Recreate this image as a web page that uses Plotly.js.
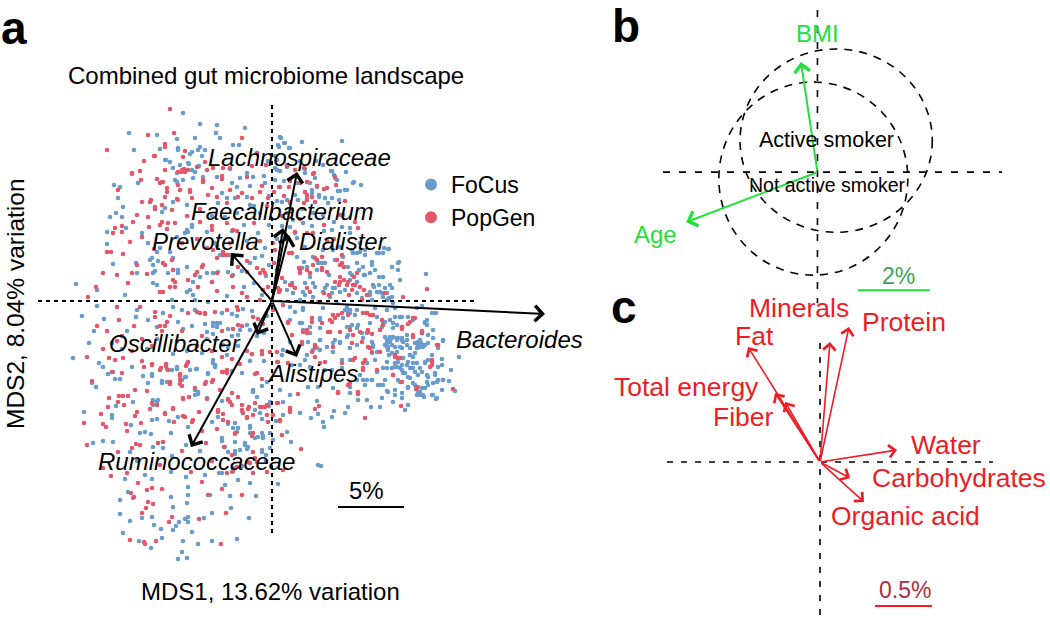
<!DOCTYPE html>
<html><head><meta charset="utf-8">
<script src="https://cdn.plot.ly/plotly-3.0.1.min.js"></script>
<style>html,body{margin:0;padding:0;background:#fff}</style></head>
<body><div id="chart" style="width:1050px;height:619px"></div>
<script>
// Panel a, ordinates; 66 units = 5% variation.
const focusPoints = [
[-89,188],[-72,177],[-55,176],[-27,173],[-143,168],[-115,166],[-95,162],[-77,163],[-56,168],[-138,151],[-112,152],[-94,153],[-80,149],[-72,154],[-52,163],[-39,156],[-33,156],[-106,141],[-83,137],[-99,133],[-95,128],[-77,129],[-73,135],[-97,121],[-134,118],[-140,127],[-158,116],[-152,114],[-154,103],[-149,94],[-162,84],[-156,88],[-150,84],[-146,73],[-165,69],[-130,68],[-124,58],[-165,57],[-112,53],[-102,49],[-159,37],[-136,38],[-122,41],[-114,40],[-119,28],[-135,28],[-196,17],[-175,11],[-175,-5],[-147,6],[-135,-9],[-136,-16],[-124,-19],[-109,-12],[-90,-9],[-100,1],[-85,9],[-77,1],[-64,-1],[-59,-22],[-55,-22],[-94,31],[-80,74],[-85,71],[-79,19],[-72,24],[-65,28],[-60,19],
[-199,-57],[-183,-42],[-173,-62],[-169,-66],[-159,-71],[-164,-73],[-157,-78],[-152,-78],[-180,-82],[-176,-86],[-129,-75],[-120,-73],[-124,-82],[-110,-80],[-105,-81],[-105,-68],[-95,-66],[-86,-76],[-76,-68],[-59,-62],[-57,-66],[-64,-72],[-45,-54],[-30,-72],[-19,-91],[-74,-91],[-77,-94],[-65,-97],[-119,-99],[-114,-99],[-139,-101],[-156,-105],[-188,-111],[-160,-114],[-160,-117],[-120,-119],[-115,-118],[-103,-120],[-94,-116],[-141,-124],[-132,-132],[-127,-131],[-121,-133],[-84,-126],[-101,-132],[-60,-121],[-54,-116],[-39,-127],[-35,-131],[-22,-127],[-14,-136],[-9,-135],[-169,-140],[-179,-142],[-159,-141],[-119,-146],[-109,-147],[-86,-144],[-50,-140],[-37,-150],[-27,-144],[-24,-146],[-10,-151],[-142,-151],[-147,-178],[-127,-174],[-120,-178],[-101,-171],[-86,-176],[-67,-174],[-50,-172],[-40,-171],[-34,-179],[-22,-182],[-84,-186],[-84,-194],[-101,-196],[-144,-191],[-139,-197],[-152,-199],[-62,-194],[-47,-184],[-42,-195],[-16,-195],[-85,-202],[-99,-206],[-152,-213],[-130,-217],[-120,-216],[-142,-220],[-118,-224],[-111,-228],[-99,-229],[-96,-225],[-93,-221],[-87,-218],[-84,-216],[-84,-221],[-68,-217],[-60,-212],[-41,-207],[-23,-217],[-149,-232],[-80,-231],[-133,-240],[-110,-237],[-89,-240],[-74,-243],[-60,-240],[-35,-238],[-121,-247],[-90,-251],[-94,-258],[-85,-257],
[187,-56],[171,-40],[170,-58],[170,-64],[179,-69],[177,-80],[183,-90],[171,-79],[164,-98],[161,-94],[152,-96],[148,-94],[146,-91],[150,-87],[136,-104],[133,-109],[121,-101],[108,-106],[99,-106],[110,-97],[95,-99],[86,-99],[76,-106],[73,-112],[60,-116],[62,-110],[46,-113],[39,-117],[51,-121],[52,-126],[45,-100],[28,-112],[19,-141],[15,-131],[49,-165],[6,-183],[1,-139],[163,-12],[150,-5],[155,-19],[155,-24],[161,-29],[150,-32],[149,-42],[145,-47],[153,-44],[166,-47],[156,-34],[160,-54],[153,-61],[145,-62],[138,-54],[135,-44],[130,-39],[125,-37],[118,-41],[115,-46],[117,-54],[123,-62],[130,-69],[138,-77],[146,-74],[155,-74],[163,-74],[165,-81],[155,-81],[141,-82],[136,-87],[130,-92],[123,-89],[115,-90],[108,-84],[113,-79],[105,-71],[111,-67],[115,-61],[103,-59],[95,-62],[88,-74],[95,-79],[100,-79],[85,-79],[78,-86],[61,-87],[46,-86],[36,-86],[18,-94],[8,-89],[78,-59],[70,-67],[60,-69],[48,-49],[41,-49],[36,-41],[48,-39],[61,-42],[68,-41],[75,-36],[86,-24],[78,-26],[95,-32],[101,-44],[105,-51],[110,-26],[121,-27],[130,-16],[141,-19],[123,-16],[115,-9],[105,-16],[95,-12],[78,-12],[73,-9],[48,-17],[31,-9],[23,-11],[18,-19],[30,-22],[38,-26],[18,-41],[11,-49],[5,-61],[10,-54],[20,-64],[28,-64],[38,-66],[53,-69],
[115,-39],[118,-37],[121,-36],[126,-37],[131,-41],[135,-39],[113,-44],[116,-49],[120,-52],[126,-57],[131,-57],[136,-61],[141,-67],[125,-66],[130,-64],[133,-72],[128,-81],[146,-44],[151,-46],[148,-39],
[9,163],[12,158],[30,159],[70,160],[18,153],[6,156],[60,130],[74,129],[81,118],[89,116],[63,123],[73,111],[66,110],[33,128],[15,134],[38,118],[40,108],[18,98],[26,101],[15,88],[21,81],[31,78],[41,88],[51,86],[71,86],[78,68],[88,58],[93,51],[111,48],[116,52],[105,48],[126,38],[120,34],[126,31],[154,27],[128,21],[118,16],[111,24],[108,9],[101,16],[93,26],[81,48],[71,44],[63,41],[53,38],[46,38],[35,34],[25,44],[18,74],[33,54],[41,44],[51,51],[61,51],[76,34],[85,38],[91,34],[98,28],[78,28],[73,11],[61,13],[51,9],[41,18],[31,9],[21,8],[41,4],[58,4],[85,8],[98,6],[120,4],[115,1],[111,4],[121,-2],[123,-7],[103,-7],[85,-9],[76,-11],[75,-6],[65,-2],[51,-7],[31,-7],[18,-6],[145,-7],[128,-16],[136,-16],[153,-22],[164,-12],[48,-19],[28,-22],[98,-22],[111,-21],[121,-22],
[-60,85],[-50,108],[-35,88],[-18,95],[-8,125],[-22,115],[-42,132],[-15,148],[-4,140],[-55,55],[-40,70],[-25,60],[-10,45],[-30,30],[-18,18],[-6,25],[-45,5],[-20,-10],[-35,-15],[-5,-15],[-15,-35],[-40,-35],[-65,-38],[-80,-25],[-95,-40],[-115,-38],[-125,-48],[-145,-30],[-160,-42],[-178,-30],[-190,-15],[-8,-60],[-22,-60],[-40,-70],[-10,-85],[-3,-105],[-70,-52],[-85,-50],
[62,79],[60,71],[70,74],[78,73],[23,68],[25,63],[60,54],[68,54],[80,51],[88,49],[107,48],[117,52],[112,53],[85,48],[93,46],[100,39],[32,39],[30,33],[47,38],[50,38],[45,31],[57,26],[87,31],[92,26],[100,36],[103,31],[80,26],[78,21],[85,19],[107,24],[113,13],[120,13],[127,39],[107,16],[102,14],[98,9],[105,9],[110,8],[117,3],[115,8],[100,1],[90,3],[68,9],[63,13],[60,8],[53,13],[55,16],[38,24],[33,18],[20,18],[13,19],[15,11],[33,6],[43,14],[28,1],
[78,-9],[75,-9],[83,-14],[71,-17],[80,-24],[76,-34],[85,-27],[90,-32],[48,-39],[45,-47],[35,-54],[33,-59],[48,-27],[38,-32],[31,-29],[113,-21],[118,-19],[125,-24],[128,-16],[118,-36],[115,-42],[116,-46],[120,-37],[125,-39],[130,-37],[135,-34],[145,-47],[148,-46],[151,-44],[143,-52],[125,-51],[126,-61],[131,-57],[138,-54],[135,-64],[128,-67],[131,-72],[136,-76],[143,-71],[148,-67],[156,-76],[163,-72],[166,-79],[171,-79],[148,-91],[151,-94],[145,-94],[146,-86],[115,-67],[111,-84],[106,-84],[116,-91],[123,-94],[91,-79],[100,-79],[78,-92],[93,-84],[100,-41],[98,-47],[101,-46],[100,-52],[156,-42],[161,-37],[171,-39],[153,-21],[160,-12],[75,-26],[63,-39],[55,-46],[61,-51],[70,-59],[130,-97],[160,-94],[165,-97],
[-94,151],[-82,147],[-74,151],[-67,151],[-107,141],[-102,139],[-84,138],[-70,145],[-92,136],[-80,131],[-79,123],[-69,124],[-55,124],[-32,123],[-40,118],[-35,114],[-25,128],[-19,124],[-95,119],[-89,121],[-99,99],[-94,101],[-85,96],[-107,93],[-110,89],[-80,76],[-84,69],[-87,68],[-90,58],[-65,69],[-57,58],[-95,64],[-115,49],[-99,43],[-120,43],[-119,36],[-85,34],[-94,28],[-104,28],[-117,30],[-119,18],[-115,16],[-82,11],[-79,6],[-59,28],[-54,29],[-44,29],[-39,26],[-22,38],[-17,43],[-7,53],[-52,46],[-47,46],[-42,46],[-45,103],[-37,103],[-25,104],[-22,96],[-7,118],[-54,98],
[-99,-6],[-77,-9],[-115,-26],[-94,-21],[-89,-28],[-59,-25],[-52,-22],[-67,-23],[-55,-26],[-44,-28],[-65,-31],[-59,-33],[-32,-29],[-34,-34],[-25,-24],[-22,-29],[-40,-13],[-29,-8],[-120,-46],[-99,-53],[-120,-75],[-110,-82],[-100,-69],[-95,-68],[-82,-69],[-75,-68],[-59,-59],[-57,-64],[-64,-73],[-87,-76],[-90,-79],[-77,-89],[-74,-93],[-115,-101],[-119,-104],[-49,-44],[-44,-46],[-19,-89],[-15,-96],[-5,-81],
[3,145],[8,130],[-3,105],[12,120],[25,118],[5,100],[30,92],[10,75],[5,62],[40,75],[52,70],[28,140],[44,140],[56,98],[47,104],[-12,88],[-3,76],[-14,68],[-28,76],[-47,84],[-3,36],[-28,14],[-10,6],[-34,-45],[-8,-32],[-50,-12],[-150,-48],[-168,-18],[-140,-66],[-30,-110],[-50,-100],[-10,-118],[-30,-165],[-6,-160],[-72,-150],[-100,-155],[-135,-160],
[8,164],[13,158],[7,154],[17,153],[5,141],[15,136],[3,133],[5,131],[33,132],[51,136],[59,130],[62,126],[82,119],[65,121],[68,110],[75,111],[43,123],[45,114],[40,111],[47,106],[53,103],[60,103],[67,101],[23,106],[35,103],[10,99],[15,101],[7,114],[3,121],
[-2,-101],[11,-101],[-12,-112],[-17,-109],[4,-120],[11,-114],[-44,-123],[-37,-122],[-34,-127],[-37,-133],[-22,-125],[-22,-132],[-17,-137],[-10,-132],[-9,-137],[-2,-132],[-50,-137],[-37,-141],[-27,-142],[-25,-148],[-47,-146],[-44,-151],[-37,-153],[-32,-149],[-2,-147],[-10,-149],[-6,-154],[-53,-172],[-39,-167],[46,-164],
[113,-36],[120,-44],[123,-46],[128,-46],[138,-47],[143,-42],[146,-41],[141,-56],[130,-47],[120,-67],[123,-66],[138,-67],[141,-62],[153,-62],[156,-59],[166,-66],[150,-71],[126,-79],[136,-86],[143,-84],[156,-84],[161,-82],[153,-87],[170,-89],[91,-37],[85,-44],[78,-47],[68,-42]
];
const popgenPoints = [
[-102,192],[-124,166],[-98,168],[-165,151],[-118,145],[-128,140],[-107,157],[-87,150],[-132,130],[-140,128],[-131,121],[-115,122],[-107,131],[-88,132],[-91,129],[-110,119],[-105,113],[-94,116],[-82,111],[-65,131],[-69,121],[-50,122],[-42,133],[-30,163],[-49,133],[-25,124],[-154,111],[-130,99],[-121,101],[-135,86],[-124,84],[-117,94],[-110,96],[-95,102],[-100,91],[-139,79],[-123,74],[-150,75],[-157,73],[-159,68],[-150,69],[-130,64],[-142,59],[-165,49],[-161,49],[-149,47],[-169,28],[-155,26],[-140,28],[-135,36],[-125,27],[-109,38],[-99,21],[-97,14],[-109,9],[-75,29],[-69,36],[-55,28],[-39,14],[-176,14],[-184,4],[-155,-6],[-144,18],[-132,-6],[-117,-16],[-153,-19],[-138,-25],[-105,-21],[-84,-12],[-72,-12],[-67,-12],[-45,-9],[-35,-6],[-12,1],[-25,4],[-9,31],[-15,33],[-59,51],[-49,49],[-65,53],[-45,46],
[-185,-56],[-169,-48],[-163,-57],[-157,-59],[-149,-57],[-160,-71],[-150,-72],[-128,-66],[-120,-63],[-111,-67],[-106,-63],[-86,-65],[-84,-61],[-92,-73],[-92,-79],[-92,-83],[-102,-81],[-66,-81],[-59,-79],[-77,-87],[-49,-71],[-45,-72],[-15,-72],[-10,-78],[-52,-89],[-40,-92],[-44,-99],[-163,-97],[-153,-95],[-149,-95],[-144,-95],[-137,-89],[-125,-90],[-164,-106],[-154,-101],[-148,-104],[-122,-108],[-120,-102],[-115,-104],[-135,-111],[-137,-115],[-171,-113],[-188,-122],[-169,-123],[-166,-126],[-146,-123],[-131,-122],[-107,-112],[-99,-107],[-98,-121],[-89,-115],[-80,-121],[-73,-111],[-89,-97],[-83,-96],[-55,-128],[-44,-121],[-30,-104],[-25,-116],[-10,-106],[-29,-112],[-185,-144],[-136,-143],[-132,-144],[-114,-142],[-109,-141],[-154,-151],[-140,-147],[-66,-142],[-48,-146],[-40,-154],[-169,-167],[-161,-175],[-145,-172],[-134,-182],[-112,-164],[-81,-171],[-70,-181],[-125,-189],[-120,-187],[-110,-188],[-141,-192],[-138,-196],[-64,-194],[-50,-188],[-30,-194],[-124,-201],[-119,-203],[-126,-207],[-130,-212],[-100,-216],[-103,-221],[-73,-218],[-46,-212],[-142,-239],[-128,-241],[-127,-243],[-116,-240],[-51,-243],[-35,-166],[-22,-162],[-5,-171],[-15,-161],
[181,-88],[144,-88],[129,-105],[93,-117],[47,-105],[43,-108],[18,-109],[10,-134],[29,-148],[11,-169],[5,-102],[26,-93],[66,-92],[86,-91],[53,-61],[48,-62],[70,-62],[81,-59],[91,-62],[91,-67],[105,-69],[121,-74],[123,-56],[126,-57],[160,-59],[160,-64],[165,-44],[141,-34],[150,-32],[138,-21],[130,-26],[143,-17],[110,-19],[96,-31],[98,-47],[100,-51],[80,-42],[70,-12],[58,-31],[31,-31],[35,-32],[20,-34],[43,-44],[40,-21],[50,-22],[16,-22],[61,-14],[6,-61],[16,-62],[5,-51],[30,-41],[78,-82],[68,-31],[78,-29],[88,-31],[98,-14],[18,-107],[1,-114],[8,-120],
[23,131],[41,127],[15,135],[35,119],[45,115],[52,112],[64,116],[33,109],[40,104],[73,100],[68,86],[83,79],[86,73],[41,68],[50,44],[65,41],[70,38],[41,36],[28,28],[18,16],[6,13],[68,19],[81,16],[63,19],[155,12],[131,4],[113,8],[90,1],[46,-1],[11,-4],[40,-17],[63,-17],[95,-12],[130,-26],[141,-17],[8,11],[1,-9],[16,-21],[58,-19],[50,31],[35,31],[85,28],[76,19],[95,6],[1,58],[2,38],[5,31],[3,51],[8,114],[35,101],
[-60,75],[-45,98],[-72,92],[-85,85],[-30,108],[-20,135],[-10,115],[-5,95],[-18,78],[-35,70],[-42,58],[-75,62],[-90,58],[-105,72],[-118,52],[-25,40],[-40,25],[-12,60],[-55,10],[-30,8],[-90,-30],[-70,-35],[-50,-30],[-110,-30],[-130,-38],[-150,-35],[-165,-30],[-175,-25],[-30,-25],[-15,-30],[-10,-50],[-25,-50],[-60,-50],[-75,-45],[-120,-45],[-140,-50],
[43,43],[45,41],[28,31],[27,33],[50,33],[55,29],[68,36],[72,34],[68,24],[72,21],[82,24],[83,16],[88,14],[20,48],[17,48],[23,69],[20,16],[23,13],[35,13],[38,9],[52,8],[67,16],[75,16],[80,11],[77,6],[57,6],[38,28],[10,23],[7,9],[92,11],[70,46],[52,76],
[96,-29],[100,-33],[108,-29],[111,-24],[136,-23],[130,-28],[141,-36],[150,-30],[166,-44],[123,-54],[128,-57],[121,-74],[108,-51],[91,-69],[93,-59],[83,-57],[61,-46],[43,-46],[43,-56],[40,-51],[30,-43],[35,-29],[56,-31],[66,-14],[76,-14],[91,-12],[101,-14],[60,-21],[81,-34],[90,-41],[96,-46],[160,-61],[158,-66],[145,-87],[130,-81],[66,-91],[76,-84],[86,-93],
[-117,145],[-107,154],[-89,144],[-90,131],[-87,129],[-94,129],[-84,131],[-75,134],[-67,139],[-59,133],[-50,125],[-109,119],[-112,118],[-105,109],[-107,104],[-92,111],[-82,109],[-80,103],[-69,119],[-64,106],[-60,113],[-42,111],[-55,104],[-34,104],[-20,103],[-12,109],[-4,103],[-122,99],[-117,92],[-110,79],[-104,78],[-112,76],[-97,78],[-72,79],[-60,71],[-45,78],[-39,71],[-49,46],[-55,43],[-107,36],[-99,31],[-100,41],[-70,34],[-77,26],[-84,21],[-74,14],[-102,14],[-97,19],[-112,9],[-60,19],[-34,34],[-25,29],[-12,28],[-7,28],[-9,11],[-4,14],
[-117,-11],[-102,-15],[-112,-25],[-107,-25],[-75,-11],[-67,-13],[-57,-11],[-34,-9],[-39,-28],[-34,-24],[-19,-16],[-14,-18],[-9,-23],[-120,-64],[-112,-69],[-106,-65],[-104,-69],[-102,-83],[-92,-75],[-90,-85],[-85,-63],[-67,-83],[-60,-81],[-50,-56],[-50,-71],[-45,-69],[-40,-58],[-32,-63],[-20,-53],[-10,-53],[-2,-51],[-17,-73],[-42,-101],[-44,-98],[-34,-96],[-30,-109],[-24,-108],[-107,-113],[-99,-108],[-87,-116],[-79,-119],[-65,-98],[-89,-98],[-54,-111],[-49,-119],[-12,-106],[-5,-104],
[12,105],[20,92],[28,82],[10,85],[35,68],[55,60],[62,62],[-15,148],[-6,136],[18,120],[-130,-60],[-155,-40],[-180,-80],[-145,-130],[-70,-130],[-20,-135],[-60,-160],[-90,-150],
[42,128],[32,133],[35,106],[63,124],[55,113],[28,118],[17,114],[2,109],[43,99],[32,98],[18,99],
[-40,-104],[-23,-106],[-17,-102],[-7,-106],[-25,-117],[-19,-114],[-5,-114],[8,-119],[-4,-121],[18,-111],[6,-102],[-54,-109],[-49,-113],[-37,-132],[-19,-132],[-19,-151],[-24,-161],[-17,-157],[-19,-172],[-45,-172],[-39,-170]
];
const taxa = ['Lachnospiraceae','Faecalibacterium','Dialister','Prevotella','Bacteroides','Alistipes','Oscillibacter','Ruminococcaceae'];
const taxaTipX = [25,11,17,-41,273,25,-15,-81];
const taxaTipY = [129,73,66,48,-13,-56,-34,-146];
const taxaLabelX = [27,10,71,-67,247,40,-97,-76];
const taxaLabelY = [144,90,60,60,-38,-72,-42,-160];

// Panel b, in percent.
const hostVars = ['BMI','Age'];
const hostTipX = [-0.46,-3.65];
const hostTipY = [3.06,-1.39];
const hostLabelX = [0.01,-4.49];
const hostLabelY = [3.86,-1.72];
const smokerGroups = ['Active smoker','Not active smoker'];
const smokerSizes = [21.5,19.5];
const smokerX0 = [-2.15,-2.74], smokerX1 = [3.19,2.51];
const smokerY0 = [-1.67,-2.86], smokerY1 = [3.42,2.50];
const smokerLabelX = [0.24,0.29], smokerLabelY = [0.89,-0.36];

// Panel c, in percent.
const diet = ['Minerals','Protein','Fat','Total energy','Fiber','Water','Carbohydrates','Organic acid'];
const dietTipX = [0.086,0.25,-0.62,-0.388,-0.30,0.664,0.259,0.379];
const dietTipY = [1.034,1.164,0.99,0.595,0.517,0.103,-0.138,-0.345];
const dietLabelX = [-0.18,0.724,-0.569,-1.147,-0.664,1.086,1.198,0.741];
const dietLabelY = [1.325,1.207,1.085,0.647,0.388,0.147,-0.138,-0.466];

const FONT = 'Liberation Sans, Arial, sans-serif';
const W = 1050, H = 619;
const BLUE = '#6a9ccb', RED = '#e2586a', GREEN = '#22e03c', CRED = '#ee1c25';

function dashed(xs, ys, xa, ya, dash, width) {
  return {x: xs, y: ys, xaxis: xa, yaxis: ya, type: 'scatter', mode: 'lines', showlegend: false,
    hoverinfo: 'skip', line: {color: '#000', width: width, dash: dash}};
}
function bar(xs, ys, xa, ya, color) {
  return {x: xs, y: ys, xaxis: xa, yaxis: ya, type: 'scatter', mode: 'lines', showlegend: false,
    hoverinfo: 'skip', line: {color: color, width: 2}};
}
function dots(name, pts, color) {
  return {name: name, x: pts.map(p => p[0]), y: pts.map(p => p[1]), type: 'scatter', mode: 'markers',
    xaxis: 'x', yaxis: 'y', marker: {color: color, size: 4.6, line: {width: 0}}, hoverinfo: 'name'};
}
const traces = [
  dots('FoCus', focusPoints, BLUE),
  dots('PopGen', popgenPoints, RED),
  dashed([-234,203],[0,0],'x','y','4px,4px',2),
  dashed([0,0],[196,-234],'x','y','4px,4px',2),
  bar([66,132],[-206,-206],'x','y','#000'),
  dashed([-4.29,5.125],[0,0],'x2','y2','7px,9px',1.6),
  dashed([0,0],[4.5,-3.64],'x2','y2','7px,9px',1.6),
  bar([1.125,3.125],[-3.28,-3.28],'x2','y2',GREEN),
  dashed([-1.319,1.491],[0,0],'x3','y3','6px,8px',1.6),
  dashed([0,0],[1.026,-1.353],'x3','y3','6px,8px',1.6),
  bar([0.474,0.966],[-1.241,-1.241],'x3','y3',CRED)
];

const ann = [];
function arrow(xa, ya, x, y, color, width, size) {
  ann.push({xref: xa, yref: ya, axref: xa, ayref: ya, x: x, y: y, ax: 0, ay: 0, text: '', showarrow: true,
    arrowhead: 4, arrowsize: size, arrowwidth: width, arrowcolor: color, standoff: 0});
}
function label(xa, ya, x, y, text, size, color, extra) {
  ann.push(Object.assign({xref: xa, yref: ya, x: x, y: y, text: text, showarrow: false, xanchor: 'center', yanchor: 'middle',
    font: {family: FONT, size: size, color: color}}, extra || {}));
}
taxa.forEach((t, i) => {
  arrow('x', 'y', taxaTipX[i], taxaTipY[i], '#000', 2, 1.5);
  label('x', 'y', taxaLabelX[i], taxaLabelY[i], '<i>' + t + '</i>', 24, '#000');
});
hostVars.forEach((t, i) => {
  arrow('x2', 'y2', hostTipX[i], hostTipY[i], GREEN, 2, 1.5);
  label('x2', 'y2', hostLabelX[i], hostLabelY[i], t, 24, GREEN);
});
smokerGroups.forEach((t, i) => label('x2', 'y2', smokerLabelX[i], smokerLabelY[i], t, smokerSizes[i], '#000'));
diet.forEach((t, i) => {
  arrow('x3', 'y3', dietTipX[i], dietTipY[i], CRED, 1.6, 1.5);
  label('x3', 'y3', dietLabelX[i], dietLabelY[i], t, 26.5, CRED);
});
label('x', 'y', -6, 226, 'Combined gut microbiome landscape', 24, '#000');
label('x', 'y', -2, -290, 'MDS1, 13.62% variation', 24, '#000');
label('x', 'y', -257, -3, 'MDS2, 8.04% variation', 24.5, '#000', {textangle: -90});
label('x', 'y', 94, -189, '5%', 24, '#000');
label('x2', 'y2', 2.24, -2.89, '2%', 23, '#3aa655');
label('x3', 'y3', 0.733, -1.103, '0.5%', 23, '#a83240');
const bold = t => '<b>' + t + '</b>';
label('paper', 'paper', 14 / W, 1 - 28 / H, bold('a'), 46, '#000');
label('paper', 'paper', 626 / W, 1 - 26 / H, bold('b'), 46, '#000');
label('paper', 'paper', 624 / W, 1 - 307 / H, bold('c'), 46, '#000');

const hidden = (extra) => Object.assign({visible: false, fixedrange: true}, extra);
const shapes = smokerGroups.map((g, i) => ({type: 'circle', xref: 'x2', yref: 'y2',
  x0: smokerX0[i], x1: smokerX1[i], y0: smokerY0[i], y1: smokerY1[i],
  line: {color: '#000', width: 1.6, dash: '8px,7px'}}));

const layout = {
  width: W, height: H, margin: {l: 0, r: 0, t: 0, b: 0}, paper_bgcolor: '#fff', plot_bgcolor: 'rgba(0,0,0,0)',
  font: {family: FONT, color: '#000'},
  xaxis: hidden({domain: [0, 610 / W], range: [-272, 338]}),
  yaxis: hidden({domain: [0, 1], range: [-318, 301]}),
  xaxis2: hidden({domain: [640 / W, 1], range: [-4.93, 6.46]}),
  yaxis2: hidden({domain: [1 - 305 / H, 1], range: [-3.69, 4.78]}),
  xaxis3: hidden({domain: [600 / W, 1], range: [-1.897, 1.983]}),
  yaxis3: hidden({domain: [0, 1 - 305 / H], range: [-1.353, 1.353]}),
  showlegend: true,
  legend: {x: 411 / W, y: 1 - 163 / H, xanchor: 'left', yanchor: 'top', bgcolor: 'rgba(0,0,0,0)',
    font: {family: FONT, size: 23, color: '#000'}, itemsizing: 'constant', tracegroupgap: 0},
  annotations: ann, shapes: shapes
};
Plotly.newPlot('chart', traces, layout, {displayModeBar: false, responsive: false});
</script></body></html>
